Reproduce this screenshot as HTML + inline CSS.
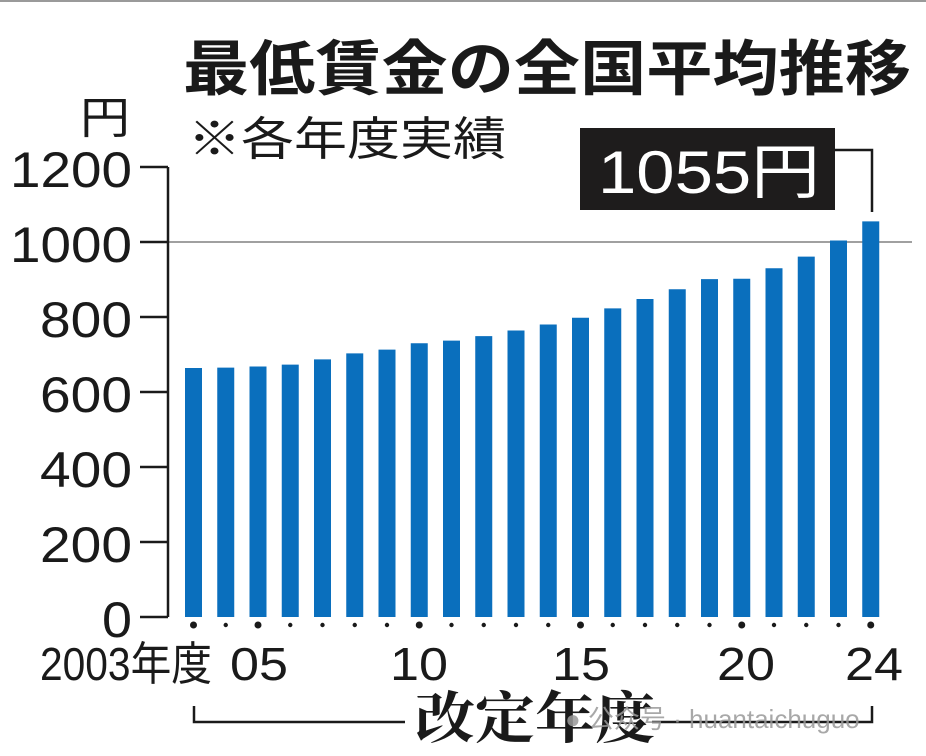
<!DOCTYPE html>
<html><head><meta charset="utf-8"><style>
html,body{margin:0;padding:0;background:#fff}
svg{display:block}
</style></head><body>
<svg width="926" height="756" viewBox="0 0 926 756" xmlns="http://www.w3.org/2000/svg">
<rect x="0" y="0" width="926" height="2" fill="#9a9a9a"/>
<g font-family="Liberation Sans, Noto Sans CJK JP, sans-serif" fill="#1a1a1a">
<text x="183" y="90" font-size="60" font-weight="bold" textLength="728" lengthAdjust="spacingAndGlyphs">最低賃金の全国平均推移</text>
<text x="80" y="133" font-size="44" textLength="50" lengthAdjust="spacingAndGlyphs">円</text>
<text x="188" y="155" font-size="46" textLength="318" lengthAdjust="spacingAndGlyphs">※各年度実績</text>
<g font-size="50" text-anchor="end">
<text x="132" y="187" textLength="122" lengthAdjust="spacingAndGlyphs">1200</text>
<text x="132" y="262" textLength="122" lengthAdjust="spacingAndGlyphs">1000</text>
<text x="132" y="337" textLength="92" lengthAdjust="spacingAndGlyphs">800</text>
<text x="132" y="412" textLength="92" lengthAdjust="spacingAndGlyphs">600</text>
<text x="132" y="487" textLength="92" lengthAdjust="spacingAndGlyphs">400</text>
<text x="132" y="562" textLength="92" lengthAdjust="spacingAndGlyphs">200</text>
<text x="132" y="637" textLength="30" lengthAdjust="spacingAndGlyphs">0</text>
</g>
</g>
<line x1="168" y1="242" x2="912" y2="242" stroke="#a0a0a0" stroke-width="2"/>
<g stroke="#1a1a1a" stroke-width="2.5" fill="none">
<path d="M168 167 V617"/>
<path d="M140 167 H168 M140 242 H168 M140 317 H168 M140 392 H168 M140 467 H168 M140 542 H168 M140 617 H168"/>
<path d="M835 150 H872 V212"/>
<path d="M194 706 V722 H405 M652 722 H872 V706"/>
</g>
<rect x="580" y="128" width="255" height="82" fill="#1e1c1c"/>
<text x="598" y="193" font-family="Liberation Sans, Noto Sans CJK JP, sans-serif" font-size="60" fill="#fff" textLength="222" lengthAdjust="spacingAndGlyphs">1055円</text>
<g fill="#0a6fbd" id="bars"></g>
<g fill="#1a1a1a" id="dots"></g>
<g font-family="Liberation Sans, Noto Sans CJK JP, sans-serif" fill="#1a1a1a" font-size="46">
<text x="40" y="680" textLength="172" lengthAdjust="spacingAndGlyphs">2003年度</text>
<text x="230" y="680" textLength="58" lengthAdjust="spacingAndGlyphs">05</text>
<text x="390" y="680" textLength="58" lengthAdjust="spacingAndGlyphs">10</text>
<text x="552" y="680" textLength="58" lengthAdjust="spacingAndGlyphs">15</text>
<text x="717" y="680" textLength="58" lengthAdjust="spacingAndGlyphs">20</text>
<text x="845" y="680" textLength="58" lengthAdjust="spacingAndGlyphs">24</text>
</g>
<text x="415" y="738" font-family="Liberation Serif, Noto Serif CJK SC, serif" font-weight="bold" font-size="56" fill="#1a1a1a" textLength="240" lengthAdjust="spacingAndGlyphs">改定年度</text>
<text x="565" y="728" font-family="Liberation Sans, Noto Sans CJK SC, sans-serif" font-size="26" fill="#9a9a9a" opacity="0.85">● 公众号 · huantaichuguo</text>
<script>
var v=[664,665,668,673,687,703,713,730,737,749,764,780,798,823,848,874,901,902,930,961,1004,1055];
var b=document.getElementById('bars'),d=document.getElementById('dots'),ns='http://www.w3.org/2000/svg';
for(var i=0;i<22;i++){var cx=193.5+i*32.25;var h=v[i]*0.375;
var r=document.createElementNS(ns,'rect');r.setAttribute('x',cx-8.5);r.setAttribute('y',617-h);r.setAttribute('width',17);r.setAttribute('height',h);b.appendChild(r);
var c=document.createElementNS(ns,'circle');c.setAttribute('cx',cx);c.setAttribute('cy',625);var big=[0,2,7,12,17,21].indexOf(i)>=0;c.setAttribute('r',big?3.5:2.2);d.appendChild(c);}
</script>
</svg>
</body></html>
